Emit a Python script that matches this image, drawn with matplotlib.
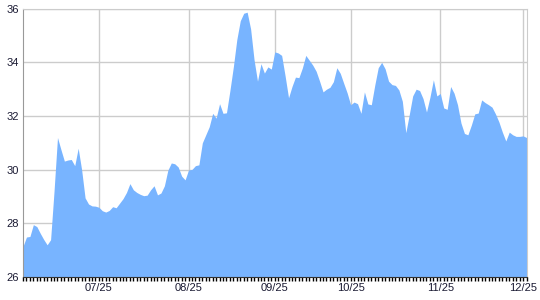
import numpy as np
import matplotlib
matplotlib.use("Agg")
import matplotlib.pyplot as plt

# values, one per tick on the x axis
values = [
    27.14, 27.49, 27.51, 27.95, 27.88, 27.63, 27.40, 27.20, 27.39, 29.20,
    31.20, 30.75, 30.32, 30.36, 30.38, 30.15, 30.80, 30.00, 28.95, 28.72,
    28.65, 28.64, 28.60, 28.47, 28.42, 28.48, 28.62, 28.58, 28.75, 28.92,
    29.15, 29.48, 29.25, 29.15, 29.08, 29.03, 29.05, 29.25, 29.40, 29.06,
    29.13, 29.40, 29.98, 30.25, 30.22, 30.10, 29.76, 29.62, 29.99, 30.01,
    30.15, 30.18, 31.00, 31.30, 31.60, 32.10, 31.92, 32.46, 32.10, 32.12,
    32.95, 33.84, 34.85, 35.55, 35.83, 35.87, 35.25, 34.10, 33.30, 33.95,
    33.60, 33.83, 33.75, 34.39, 34.35, 34.26, 33.50, 32.68, 33.10, 33.45,
    33.43, 33.79, 34.26, 34.08, 33.90, 33.67, 33.30, 32.90, 33.00, 33.07,
    33.28, 33.80, 33.59, 33.22, 32.86, 32.42, 32.52, 32.46, 32.10, 32.90,
    32.45, 32.42, 33.15, 33.80, 34.00, 33.76, 33.30, 33.17, 33.14, 32.97,
    32.55, 31.38, 32.05, 32.75, 33.00, 32.95, 32.65, 32.15, 32.70, 33.35,
    32.75, 32.84, 32.30, 32.25, 33.10, 32.85, 32.42, 31.74, 31.35, 31.30,
    31.66, 32.08, 32.11, 32.60, 32.50, 32.42, 32.33, 32.08, 31.78, 31.40,
    31.07, 31.40, 31.30, 31.24, 31.24, 31.26, 31.20,
]
date_labels = ["07/25", "08/25", "09/25", "10/25", "11/25", "12/25"]
label_index = [22, 48, 73, 95, 121, 145]
y_ticks = [26, 28, 30, 32, 34, 36]

x = np.arange(len(values))

fig = plt.figure(figsize=(5.4, 3.0), dpi=100)
ax = fig.add_axes([0.0426, 0.0767, 0.9324, 0.8943])

ax.fill_between(x, 26, values, color="#78b4ff", linewidth=0, zorder=2)

ax.set_xlim(0, len(values) - 1)
ax.set_ylim(26, 36)

ax.set_yticks(y_ticks)
ax.set_xticks(label_index)
ax.set_xticklabels(date_labels)
ax.set_xticks(x, minor=True)

ax.grid(True, color="#cccccc", linewidth=1.0, zorder=1)
ax.set_axisbelow(True)

for s in ["top", "right"]:
    ax.spines[s].set_color("#cccccc")
ax.spines["left"].set_color("#999999")
ax.spines["bottom"].set_color("#333333")

ax.tick_params(axis="y", length=0, pad=3, labelsize=8, labelcolor="#1a1a33")
ax.tick_params(axis="x", which="both", direction="out", length=3, width=1,
               color="#000000", labelsize=8, labelcolor="#1a1a33", pad=1)

for lab in ax.get_xticklabels() + ax.get_yticklabels():
    lab.set_fontfamily("Liberation Sans")

fig.savefig("out.png", dpi=100)
